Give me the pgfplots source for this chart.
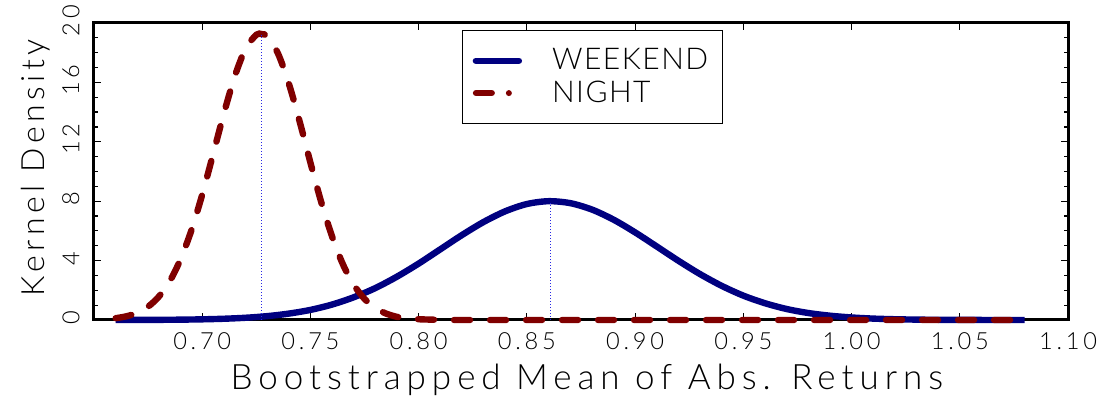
\documentclass[border=0pt]{standalone}
\usepackage{fontspec}
\setmainfont{Lato}[UprightFont=* Light]
\newfontfamily\tickfont{Lato}[UprightFont=* Light, LetterSpace=16]
\newfontfamily\labfont{Lato}[UprightFont=* Light, LetterSpace=17]
\newfontfamily\ylabfont{Lato}[UprightFont=* Light, LetterSpace=14]
\newfontfamily\legfont{Lato}[UprightFont=* Light, LetterSpace=5]
\usepackage{pgfplots}
\pgfplotsset{compat=1.18}
\definecolor{navyc}{RGB}{0,0,128}
\definecolor{maroonc}{RGB}{128,0,0}
\definecolor{dotblue}{RGB}{40,40,230}
\begin{document}
\begin{tikzpicture}
\path[use as bounding box] (0,0) rectangle (551pt,200pt);
\begin{axis}[
  at={(47pt,40pt)}, anchor=south west,
  scale only axis, width=487pt, height=148.5pt,
  xmin=0.65, xmax=1.10, ymin=0, ymax=20,
  xtick={0.70,0.75,0.80,0.85,0.90,0.95,1.00,1.05,1.10},
  xticklabels={0.70,0.75,0.80,0.85,0.90,0.95,1.00,1.05,1.10},
  ytick={0,4,8,12,16,20},
  yticklabels={0,4,8,12,16,20},
  minor y tick num=3,
  tick align=inside,
  major tick length=3.5pt, minor tick length=2pt,
  tick style={line width=0.6pt, black},
  axis line style={line width=1.5pt},
  clip=false,
  xticklabel style={font=\tickfont\fontsize{11.8}{12}\selectfont, yshift=-3pt},
  yticklabel style={font=\tickfont\fontsize{11.8}{12}\selectfont, rotate=90, anchor=south, xshift=1.2pt, yshift=3.75pt},
  xlabel={Bootstrapped Mean of Abs. Returns},
  ylabel={Kernel Density},
  xlabel style={font=\labfont\fontsize{17.5}{19}\selectfont, at={(axis description cs:0.506,-0.202)}, anchor=center},
  ylabel style={font=\ylabfont\fontsize{16}{18}\selectfont, at={(axis description cs:-0.0596,0.513)}, anchor=center},
  legend style={at={(rel axis cs:0.378,0.976)}, anchor=north west, draw=black, line width=0.5pt,
    font=\legfont\fontsize{15}{18}\selectfont, inner xsep=5pt, inner ysep=7pt,
    /tikz/every odd column/.append style={column sep=13pt}},
  legend cell align=left,
  legend image code/.code={\draw[#1, line cap=round] (0pt,0pt) -- (21.5pt,0pt);},
]
\addplot[navyc, line width=3.2pt, smooth] coordinates {
(0.66,0.0025) (0.67,0.005) (0.68,0.011) (0.69,0.023) (0.70,0.045)
(0.71,0.084) (0.72,0.15) (0.73,0.26) (0.74,0.43) (0.75,0.68)
(0.76,1.04) (0.77,1.53) (0.78,2.15) (0.79,2.92) (0.80,3.80)
(0.81,4.76) (0.82,5.72) (0.83,6.60) (0.84,7.32) (0.85,7.81)
(0.86,8.00) (0.87,7.87) (0.88,7.44) (0.89,6.76) (0.90,5.90)
(0.91,4.95) (0.92,3.99) (0.93,3.09) (0.94,2.30) (0.95,1.64)
(0.96,1.13) (0.97,0.74) (0.98,0.47) (0.99,0.29) (1.00,0.17)
(1.01,0.094) (1.02,0.051) (1.03,0.026) (1.04,0.013) (1.05,0.006)
(1.06,0.003) (1.07,0.001) (1.08,0.0005)
};
\addlegendentry{WEEKEND}
\addplot[maroonc, line width=3.2pt, line cap=round, dash pattern=on 8pt off 10pt, smooth,
  legend image code/.code={\draw[maroonc, line width=3pt, line cap=round, dash pattern=on 8pt off 8.5pt on 0pt off 20pt] (0pt,0pt) -- (21.5pt,0pt);}] coordinates {
(0.660,0.12) (0.665,0.25) (0.670,0.48) (0.675,0.90) (0.680,1.58)
(0.685,2.61) (0.690,4.09) (0.695,6.04) (0.700,8.44) (0.705,11.15)
(0.710,13.90) (0.715,16.39) (0.720,18.26) (0.725,19.21) (0.7275,19.25)
(0.730,19.10) (0.735,17.95) (0.740,15.93) (0.745,13.37) (0.750,10.59)
(0.755,7.93) (0.760,5.62) (0.765,3.75) (0.770,2.37) (0.775,1.42)
(0.780,0.80) (0.785,0.43) (0.790,0.21) (0.795,0.10) (0.800,0.05)
(0.810,0.01) (0.820,0) (0.900,0) (1.000,0) (1.080,0)
};
\addlegendentry{NIGHT}
\addplot[dotblue, line width=0.5pt, densely dotted, forget plot] coordinates {(0.7275,0) (0.7275,19.2)};
\addplot[dotblue, line width=0.5pt, densely dotted, forget plot] coordinates {(0.861,0) (0.861,7.9)};
\end{axis}
\end{tikzpicture}
\end{document}
